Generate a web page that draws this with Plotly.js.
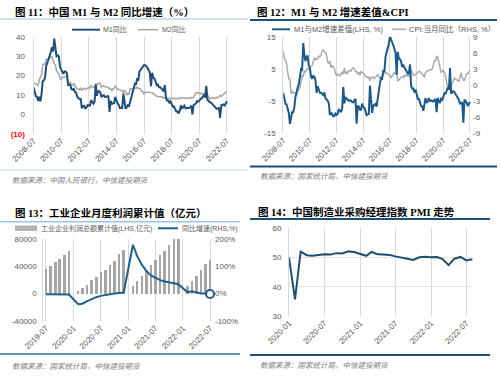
<!DOCTYPE html>
<html><head><meta charset="utf-8">
<script src="https://cdn.plot.ly/plotly-3.0.1.min.js"></script>
<style>html,body{margin:0;padding:0;background:#fff}#chart{width:500px;height:379px}</style>
</head><body><div id="chart"></div>
<script>
// ---------- data ----------
const m1Yoy = [14.0,11.6,9.4,9.0,6.8,9.1,
 6.7,10.9,17.0,17.5,18.7,24.8,26.4,27.7,29.5,32.0,34.6,32.4,
 39.0,34.9,29.9,30.3,29.9,24.6,22.9,21.9,20.9,22.1,22.1,21.2,
 14.8,15.3,15.0,12.9,12.7,13.1,11.6,11.2,8.9,8.4,7.8,7.9,
 3.1,4.3,4.4,3.1,3.5,4.7,4.6,4.5,7.3,6.1,5.5,6.5,
 15.3,9.5,11.9,11.9,11.3,9.1,9.7,9.9,8.9,8.9,9.4,9.3,
 1.2,6.9,5.4,5.5,5.7,8.9,6.7,5.7,4.8,3.2,3.2,3.2,
 10.6,5.6,2.9,3.7,4.7,4.3,6.6,9.3,11.4,14.0,15.7,15.2,
 18.6,17.4,22.1,22.9,23.7,24.6,25.4,25.3,24.7,23.9,22.7,21.4,
 14.5,21.4,18.8,18.5,17.0,15.0,15.3,14.0,14.0,13.0,12.7,11.8,
 15.0,8.5,7.1,7.2,6.0,6.6,5.1,3.9,4.0,2.7,1.5,1.5,
 0.4,2.0,4.6,2.9,3.4,4.4,3.1,3.4,3.4,3.3,3.5,4.4,
 0.0,4.8,5.0,5.5,6.8,6.5,6.9,8.0,8.1,9.1,10.0,8.6,
 14.7,7.4,7.1,6.2,6.1,5.5,4.9,4.2,3.7,2.8,3.0,3.5,
 -1.9,4.7,4.7,5.1,4.6,5.8,6.7];
const m2Yoy = [16.4,16.0,15.3,15.0,14.8,17.8,
 18.8,20.5,25.5,26.0,25.7,28.5,28.4,28.5,29.3,29.4,29.7,27.7,
 26.0,25.5,22.5,21.5,21.0,18.5,17.6,19.2,19.0,19.3,19.5,19.7,
 17.2,15.7,16.6,15.3,15.1,15.9,14.7,13.5,13.0,12.9,12.7,13.6,
 12.4,13.0,13.4,12.8,13.2,13.6,13.9,13.5,14.8,14.1,13.9,13.8,
 15.9,15.2,15.7,16.1,15.8,14.0,14.5,14.7,14.2,14.3,14.2,13.6,
 13.2,13.3,12.1,13.2,13.4,14.7,13.5,12.8,12.9,12.6,12.3,12.2,
 10.8,12.5,11.6,10.1,10.8,10.2,13.3,13.3,13.1,13.5,13.7,13.3,
 14.0,13.3,13.4,12.8,11.8,11.8,10.2,11.4,11.5,11.6,11.4,11.3,
 11.3,11.1,10.6,10.5,9.6,9.4,9.2,8.9,9.2,8.8,9.1,8.2,
 8.6,8.8,8.2,8.3,8.3,8.0,8.5,8.2,8.3,8.0,8.0,8.1,
 8.4,8.0,8.6,8.5,8.5,8.5,8.1,8.2,8.4,8.4,8.2,8.7,
 8.4,8.8,10.1,11.1,11.1,11.1,10.7,10.4,10.9,10.5,10.7,10.1,
 9.4,10.1,9.4,8.1,8.3,8.6,8.3,8.2,8.3,8.7,8.5,9.0,
 9.8,9.2,9.7,10.5,11.1,11.4,12.0];
const m1m2Gap = [-2.4,-4.4,-5.9,-6.0,-8.0,-8.7,
 -12.1,-9.6,-8.5,-8.5,-7.0,-3.7,-2.0,-0.8,0.2,2.6,4.9,4.7,
 13.0,9.4,7.4,8.8,8.9,6.1,5.3,2.7,1.9,2.8,2.6,1.5,
 -2.4,-0.4,-1.6,-2.4,-2.4,-2.8,-3.1,-2.3,-4.1,-4.5,-4.9,-5.7,
 -9.3,-8.7,-9.0,-9.7,-9.7,-8.9,-9.3,-9.0,-7.5,-8.0,-8.4,-7.3,
 -0.6,-5.7,-3.8,-4.2,-4.5,-4.9,-4.8,-4.8,-5.3,-5.4,-4.8,-4.3,
 -12.0,-6.4,-6.7,-7.7,-7.7,-5.8,-6.8,-7.1,-8.1,-9.4,-9.1,-9.0,
 -0.2,-6.9,-8.7,-6.4,-6.1,-5.9,-6.7,-4.0,-1.7,0.5,2.0,1.9,
 4.6,4.1,8.7,10.1,11.9,12.8,15.2,13.9,13.2,12.3,11.3,10.1,
 3.2,10.3,8.2,8.0,7.4,5.6,6.1,5.1,4.8,4.2,3.6,3.6,
 6.4,-0.3,-1.1,-1.1,-2.3,-1.4,-3.4,-4.3,-4.3,-5.3,-6.5,-6.6,
 -8.0,-6.0,-4.0,-5.6,-5.1,-4.1,-5.0,-4.8,-5.0,-5.1,-4.7,-4.3,
 -8.4,-4.0,-5.1,-5.6,-4.3,-4.6,-3.8,-2.4,-2.8,-1.4,-0.7,-1.5,
 5.3,-2.7,-2.3,-1.9,-2.2,-3.1,-3.4,-4.0,-4.6,-5.9,-5.5,-5.5,
 -11.7,-4.5,-5.0,-5.4,-6.5,-5.6,-5.3];
const cpiYoy = [6.3,4.9,4.6,4.0,2.4,1.2,
 1.0,-1.6,-1.2,-1.5,-1.4,-1.7,-1.8,-1.2,-0.8,-0.5,0.6,1.9,
 1.5,2.7,2.4,2.8,3.1,2.9,3.3,3.5,3.6,4.4,5.1,4.6,
 4.9,4.9,5.4,5.3,5.5,6.4,6.5,6.2,6.1,5.5,4.2,4.1,
 4.5,3.2,3.6,3.4,3.0,2.2,1.8,2.0,1.9,1.7,2.0,2.5,
 2.0,3.2,2.1,2.4,2.1,2.7,2.7,2.6,3.1,3.2,3.0,2.5,
 2.5,2.0,2.4,1.8,2.5,2.3,2.3,2.0,1.6,1.6,1.4,1.5,
 0.8,1.4,1.4,1.5,1.2,1.4,1.6,2.0,1.6,1.3,1.5,1.6,
 1.8,2.3,2.3,2.3,2.0,1.9,1.8,1.3,1.9,2.1,2.3,2.1,
 2.5,0.8,0.9,1.2,1.5,1.5,1.4,1.8,1.6,1.9,1.7,1.8,
 1.5,2.9,2.1,1.8,1.8,1.9,2.1,2.3,2.5,2.5,2.2,1.9,
 1.7,1.5,2.3,2.5,2.7,2.7,2.8,2.8,3.0,3.8,4.5,4.5,
 5.4,5.2,4.3,3.3,2.4,2.5,2.7,2.4,1.7,0.5,-0.5,0.2,
 -0.3,-0.2,0.4,0.9,1.3,1.1,1.0,0.8,0.7,1.5,2.3,1.5,
 0.9,0.9,1.5,2.1,2.1,2.5,2.7];
const profitCum = [35971,40014,45933,50169,56100,61996,
 null,4107,7814,12902,19331,25115,31022,35144,42121,48376,58694,64516,
 null,11140,18254,25944,34247,42183,49240,56051,63142,71649,79750,87092,
 null,11575,19102,25290,34410,42703,48930];
const profitYoy = [-1.7,-1.7,-2.1,-2.9,-2.1,-3.3,
 null,-38.3,-36.7,-27.4,-19.3,-12.8,-8.1,-4.4,-2.4,0.7,2.4,4.1,
 null,178.9,137.3,106.0,83.4,66.9,57.3,49.5,44.7,42.2,38.0,34.3,
 null,5.0,8.5,3.5,1.0,1.0,-1.1];
const pmi = [50.0,35.7,52.0,50.8,50.6,50.9,51.1,51.0,51.5,51.4,52.1,51.9,
 51.3,50.6,51.9,51.1,51.0,50.9,50.4,50.1,49.6,49.2,50.1,50.3,
 50.1,50.2,49.5,47.4,49.6,50.2,49.0,49.4];

const p1Ticks = ['(10)','0','10','20','30','40'];
const p2LeftTicks = ['-15','-5','5','15'];
const p2RightTicks = ['-9','-6','-3','0','3','6','9'];
const p3LeftTicks = ['-40000','0','40000','80000'];
const p3RightTicks = ['-100%','0%','100%','200%'];

const titles = ['图 11：中国 M1 与 M2 同比增速（%）','图 12：M1 与 M2 增速差值&CPI',
  '图 13：工业企业月度利润累计值（亿元）','图 14：中国制造业采购经理指数 PMI 走势'];
const sources = ['数据来源：中国人民银行，中信建投期货','数据来源：国家统计局，中信建投期货',
  '数据来源：国家统计局，中信建投期货','数据来源：国家统计局，中信建投期货'];
const legendNames = ['M1同比','M2同比','M1与M2增速差值(LHS, %)','CPI:当月同比（RHS, %）',
  '工业企业利润总额累计值(LHS,亿元)','同比增速(RHS,%)'];

function monthSeq(y, m, n){ const out=[]; for(let i=0;i<n;i++){ out.push(y+'-'+String(m).padStart(2,'0')+'-01'); m++; if(m>12){m=1;y++;} } return out; }
const dMoney = monthSeq(2008,7,m1Yoy.length);
const dProfit = monthSeq(2019,7,profitCum.length);
const dPmi = monthSeq(2020,1,pmi.length);

// ---------- layout helpers ----------
const W=500,H=379;
const px = x => x/W, py = y => 1 - y/H;
const FONT = '"Liberation Sans","Noto Sans CJK SC",sans-serif';
const TFONT = '"Liberation Serif","Noto Sans CJK SC",serif';
const TICKC = '#595959', GRID = '#D9D9D9';
const DARK1 = '#1F4E79', DARK2 = '#1B5A8A', DARK3 = '#1F5F8B', DARK4 = '#1F4E6E', GRAY = '#A6A6A6';

const xBase = {type:'date', tickformat:'%Y-%m', tickangle:-45, showgrid:true, gridcolor:GRID, gridwidth:1,
  zeroline:false, ticks:'', tickfont:{size:8, color:TICKC}, fixedrange:true};
const yBase = {zeroline:false, ticks:'', tickfont:{size:8, color:TICKC}, showgrid:false, fixedrange:true};

const traces = [
  {x:dMoney, y:m2Yoy, type:'scatter', mode:'lines', line:{color:GRAY, width:1.5}, xaxis:'x', yaxis:'y', name:legendNames[1]},
  {x:dMoney, y:m1Yoy, type:'scatter', mode:'lines', line:{color:DARK1, width:2}, xaxis:'x', yaxis:'y', name:legendNames[0]},
  {x:dMoney, y:cpiYoy, type:'scatter', mode:'lines', line:{color:'#ABABAB', width:1.5}, xaxis:'x2', yaxis:'y2', name:legendNames[3]},
  {x:dMoney, y:m1m2Gap, type:'scatter', mode:'lines', line:{color:DARK2, width:2}, xaxis:'x2', yaxis:'y3', name:legendNames[2]},
  {x:dProfit, y:profitCum, type:'bar', marker:{color:GRAY}, width:17*86400000, xaxis:'x3', yaxis:'y4', name:legendNames[4]},
  {x:dProfit, y:profitYoy, type:'scatter', mode:'lines', connectgaps:true, line:{color:DARK3, width:2}, xaxis:'x3', yaxis:'y5', name:legendNames[5]},
  {x:[dProfit[dProfit.length-1]], y:[profitYoy[profitYoy.length-1]], type:'scatter', mode:'markers', cliponaxis:false,
    marker:{symbol:'circle', size:8, color:'#fff', line:{color:DARK3, width:2}}, xaxis:'x3', yaxis:'y5', name:'end'},
  {x:dPmi, y:pmi, type:'scatter', mode:'lines', line:{color:DARK4, width:2}, xaxis:'x4', yaxis:'y6', name:'PMI'}
];

function hline(x0,x1,y,color,w){ return {type:'line', xref:'paper', yref:'paper', x0:px(x0), x1:px(x1), y0:py(y), y1:py(y), line:{color:color, width:w}}; }
function txt(x,y,t,size,color,family){ return {xref:'paper', yref:'paper', x:px(x), y:py(y), xanchor:'left', yanchor:'middle', showarrow:false, text:t, font:{size:size, color:color, family:family||FONT}}; }

const shapes = [
  hline(0,248,19,'#9DC3E6',1), hline(250,497,20,DARK1,2),
  hline(0,248,170,'#BDD7EE',1), hline(250,497,166.5,DARK1,2),
  hline(0,240,221.7,'#9DC3E6',1.5), hline(0,240,354,'#2E75B6',1.5),
  hline(250,490,219,DARK1,2), hline(250,490,355,DARK1,2),
  // legend keys
  hline(72,100,29.7,DARK1,2), hline(138,158,29.7,GRAY,1.5),
  hline(272,290,29.3,DARK2,2), hline(392,406,29.3,'#ABABAB',1.5),
  {type:'rect', xref:'paper', yref:'paper', x0:px(15), x1:px(37), y0:py(231), y1:py(225.5), line:{width:0}, fillcolor:'#B3B3B3'},
  hline(158,178,228.3,DARK3,2)
];

const annotations = [
  txt(12.5,12.3,'<b>'+titles[0]+'</b>',10.5,'#000',TFONT),
  txt(255,12.3,'<b>'+titles[1]+'</b>',10.5,'#000',TFONT),
  txt(12.5,212.7,'<b>'+titles[2]+'</b>',10.5,'#000',TFONT),
  txt(256,211.7,'<b>'+titles[3]+'</b>',10.5,'#000',TFONT),
  txt(10,180,'<i>'+sources[0]+'</i>',7.5,'#7F7F7F'),
  txt(258,176.7,'<i>'+sources[1]+'</i>',7.5,'#7F7F7F'),
  txt(10,366,'<i>'+sources[2]+'</i>',7.5,'#7F7F7F'),
  txt(258,365,'<i>'+sources[3]+'</i>',7.5,'#7F7F7F'),
  txt(101,29.7,legendNames[0],7,TICKC),
  txt(159.5,29.7,legendNames[1],7,TICKC),
  txt(292,29.3,legendNames[2],7.5,TICKC),
  txt(407,29.3,legendNames[3],7.5,TICKC),
  txt(38.5,228.3,legendNames[4],7,TICKC),
  txt(179.5,228.3,legendNames[5],7,TICKC)
];

const p1TickText = p1Ticks.map((t,i)=> i===0 ? '<span style="color:#FF0000"><b>'+t+'</b></span>' : t);

const layout = {
  width:W, height:H, margin:{l:0,r:0,t:0,b:0}, paper_bgcolor:'#fff', plot_bgcolor:'rgba(0,0,0,0)',
  showlegend:false, font:{family:FONT, size:8, color:TICKC},
  xaxis: Object.assign({}, xBase, {domain:[px(33.5),px(229.3)], anchor:'y', range:['2008-07-01','2022-09-01'], tick0:'2008-07-01', dtick:'M24'}),
  yaxis: Object.assign({}, yBase, {domain:[py(133.7),py(36.7)], anchor:'x', range:[-10,40], tickvals:[-10,0,10,20,30,40], ticktext:p1TickText,
    showline:true, linecolor:GRID, ticklabelstandoff:6}),
  xaxis2: Object.assign({}, xBase, {domain:[px(283.2),px(471.1)], anchor:'y2', range:['2008-07-01','2022-08-01'], tick0:'2008-07-01', dtick:'M24'}),
  yaxis2: Object.assign({}, yBase, {domain:[py(133.3),py(36.7)], anchor:'x2', side:'right', range:[-9,9], tickvals:[-9,-6,-3,0,3,6,9], ticktext:p2RightTicks, ticklabelstandoff:1}),
  yaxis3: Object.assign({}, yBase, {overlaying:'y2', anchor:'x2', side:'left', range:[-15,15], tickvals:[-15,-5,5,15], ticktext:p2LeftTicks,
    showline:true, linecolor:GRID, ticklabelstandoff:5}),
  xaxis3: Object.assign({}, xBase, {domain:[px(43.3),px(212)], anchor:'y4', range:['2019-06-13','2022-07-14'], tick0:'2019-07-01', dtick:'M6'}),
  yaxis4: Object.assign({}, yBase, {domain:[py(321),py(239)], anchor:'x3', range:[-40000,80000], tickvals:[-40000,0,40000,80000], ticktext:p3LeftTicks,
    showline:true, linecolor:GRID, ticklabelstandoff:4}),
  yaxis5: Object.assign({}, yBase, {overlaying:'y4', anchor:'x3', side:'right', range:[-100,200], tickvals:[-100,0,100,200], ticktext:p3RightTicks, ticklabelstandoff:2}),
  xaxis4: Object.assign({}, xBase, {domain:[px(289),px(473.3)], anchor:'y6', range:['2020-01-01','2022-08-06'], tick0:'2020-01-01', dtick:'M6'}),
  yaxis6: Object.assign({}, yBase, {domain:[py(316),py(228.3)], anchor:'x4', range:[30,60], tickvals:[30,40,50,60], showgrid:true, gridcolor:'#E3E3E3',
    showline:true, linecolor:GRID, ticklabelstandoff:5}),
  shapes: shapes,
  annotations: annotations,
  bargap:0
};

Plotly.newPlot('chart', traces, layout, {staticPlot:true, displayModeBar:false});
</script>
</body></html>
